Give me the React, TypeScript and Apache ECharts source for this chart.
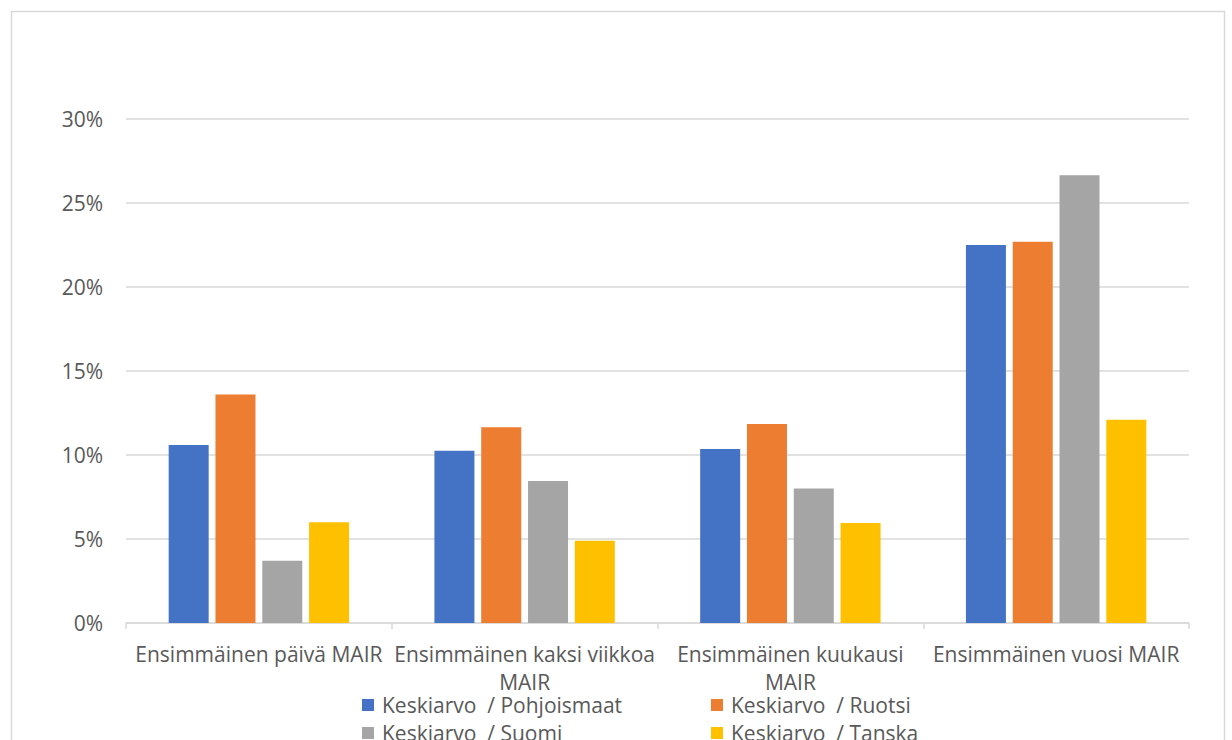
import React, { useEffect, useRef } from "react";
import * as echarts from "echarts";

const categories = [
  "Ensimmäinen päivä MAIR",
  "Ensimmäinen kaksi viikkoa\nMAIR",
  "Ensimmäinen kuukausi\nMAIR",
  "Ensimmäinen vuosi MAIR",
];
const seriesNames = [
  "Keskiarvo  / Pohjoismaat",
  "Keskiarvo  / Ruotsi",
  "Keskiarvo  / Suomi",
  "Keskiarvo  / Tanska",
];
const pohjoismaat = [10.6, 10.25, 10.35, 22.5];
const ruotsi = [13.6, 11.65, 11.85, 22.7];
const suomi = [3.7, 8.45, 8.0, 26.65];
const tanska = [6.0, 4.9, 5.95, 12.1];
const colors = ["#4472C4", "#ED7D31", "#A5A5A5", "#FFC000"];
const yTicks = [0, 5, 10, 15, 20, 25, 30];

export default function App() {
  const ref = useRef<HTMLDivElement>(null);
  useEffect(() => {
    document.body.style.margin = "0";
    const chart = echarts.init(ref.current!, null, { renderer: "svg" });
    const data = [pohjoismaat, ruotsi, suomi, tanska];
    const font = "Open Sans";
    const fs = 21;
    const legendBase = {
      itemWidth: 12,
      itemHeight: 12,
      icon: "rect",
      padding: 0,
      textStyle: {
        color: "#595959",
        fontSize: fs,
        fontFamily: font,
        lineHeight: 22,
        padding: [0, 0, 0, 3],
      },
    };
    const legendPos = [
      { left: 362, top: 694 },
      { left: 711, top: 694 },
      { left: 362, top: 722 },
      { left: 711, top: 722 },
    ];
    chart.setOption({
      animation: false,
      backgroundColor: "#ffffff",
      textStyle: { fontFamily: font },
      graphic: [
        {
          type: "rect",
          shape: { x: 11.5, y: 11.5, width: 1213, height: 760 },
          style: { fill: "none", stroke: "#d9d9d9", lineWidth: 1.5 },
          silent: true,
        },
      ],
      grid: { left: 126, right: 43, top: 119, bottom: 117, containLabel: false },
      legend: seriesNames.map((name, i) => ({
        ...legendBase,
        ...legendPos[i],
        data: [name],
      })),
      xAxis: {
        type: "category",
        data: categories,
        axisLine: { lineStyle: { color: "#d9d9d9", width: 1.5 } },
        axisTick: { show: true, length: 6, alignWithLabel: false, lineStyle: { color: "#d9d9d9", width: 1.5 } },
        axisLabel: {
          color: "#595959",
          fontSize: fs,
          fontFamily: font,
          margin: 17,
          lineHeight: 28,
          interval: 0,
        },
      },
      yAxis: {
        type: "value",
        min: 0,
        max: 30,
        interval: 5,
        axisLine: { show: false },
        axisTick: { show: false },
        splitLine: { lineStyle: { color: "#d9d9d9", width: 1.5 } },
        axisLabel: {
          color: "#595959",
          fontSize: fs,
          fontFamily: font,
          margin: 23,
          formatter: (v: number) => (yTicks.includes(v) ? v + "%" : ""),
        },
      },
      series: seriesNames.map((name, i) => ({
        name,
        type: "bar",
        data: data[i],
        itemStyle: { color: colors[i] },
        barWidth: 40,
        barGap: "17%",
        barCategoryGap: "32%",
      })),
    });
    return () => chart.dispose();
  }, []);
  return <div ref={ref} style={{ width: 1232, height: 740 }} />;
}
